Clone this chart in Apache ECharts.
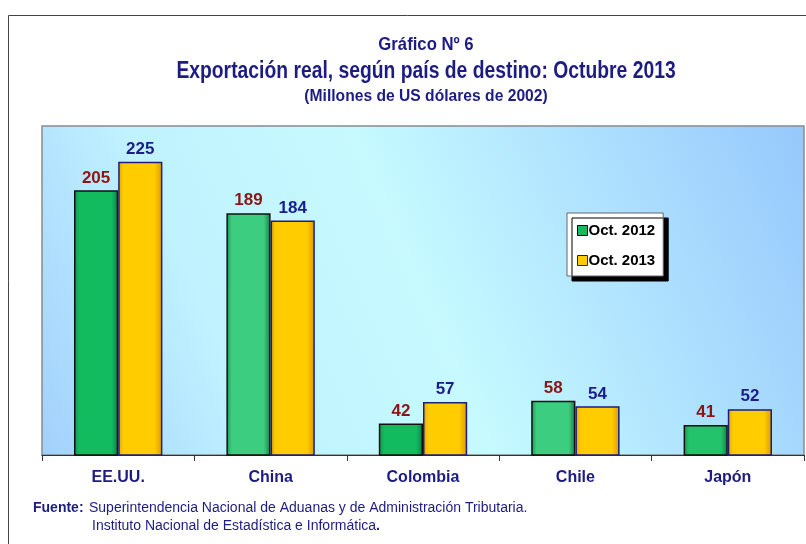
<!DOCTYPE html>
<html><head><meta charset="utf-8">
<script src="https://cdn.jsdelivr.net/npm/echarts@6/dist/echarts.min.js"></script>
<style>html,body{margin:0;padding:0;background:#fff}#c{width:806px;height:544px}</style>
</head><body><div id="c"></div>
<script>
const categories = ['EE.UU.', 'China', 'Colombia', 'Chile', 'Japón'];
const oct2012 = [205, 189, 42, 58, 41];
const oct2013 = [225, 184, 57, 54, 52];
const seriesNames = ['Oct. 2012', 'Oct. 2013'];
const titleLines = ['Gráfico Nº 6', 'Exportación real, según país de destino: Octubre 2013', '(Millones de US dólares de 2002)'];
const sourceLines = ['Fuente:', 'Superintendencia Nacional de Aduanas y de Administración Tributaria.', 'Instituto Nacional de Estadística e Informática'];

const FONT = "'Liberation Sans', Arial, sans-serif";
const NAVY = '#1c1c82';
const chart = echarts.init(document.getElementById('c'), null, {renderer: 'canvas'});

const greenShades = ['#12bb5e', '#3ccd80', '#12bb5e', '#3ccd80', '#22c36a'];
function greenGrad(c) {
  return new echarts.graphic.LinearGradient(0, 0, 1, 0, [
    {offset: 0, color: '#1e8f52'}, {offset: 0.12, color: c}, {offset: 0.85, color: c}, {offset: 1, color: '#167a45'}
  ]);
}
const yellowGrad = new echarts.graphic.LinearGradient(0, 0, 1, 0, [
  {offset: 0, color: '#e0a800'}, {offset: 0.12, color: '#ffcc00'}, {offset: 0.82, color: '#ffcc00'}, {offset: 1, color: '#d99a00'}
]);

function titleText(txt, y, size, sx) {
  return {type: 'group', x: 426, y: y, scaleX: sx, children: [
    {type: 'text', x: 0, y: 0, style: {text: txt, font: 'bold ' + size + 'px ' + FONT, fill: NAVY, textAlign: 'center', textVerticalAlign: 'middle'}}
  ]};
}

chart.setOption({
  backgroundColor: '#ffffff',
  animation: false,
  legend: {
    orient: 'vertical',
    left: 567, top: 213, width: 96,
    padding: [10, 8, 8, 10],
    itemGap: 15,
    itemWidth: 10, itemHeight: 10,
    backgroundColor: '#ffffff',
    borderColor: '#666', borderWidth: 1,
    shadowColor: '#000', shadowBlur: 0, shadowOffsetX: 5, shadowOffsetY: 5,
    textStyle: {fontFamily: FONT, fontSize: 15, fontWeight: 'bold', color: '#000', padding: [0, 0, 0, -4]},
    data: [
      {name: seriesNames[0], icon: 'rect', itemStyle: {color: '#12bb5e', borderColor: '#000', borderWidth: 1}},
      {name: seriesNames[1], icon: 'rect', itemStyle: {color: '#ffcc00', borderColor: '#1c1c82', borderWidth: 1}}
    ]
  },
  grid: {
    left: 42, right: 2, top: 126, bottom: 89,
    show: true,
    borderColor: '#8a8a8a', borderWidth: 1.5,
    backgroundColor: new echarts.graphic.LinearGradient(1, 0, 0, 1, [
      {offset: 0, color: '#96c8fc'}, {offset: 0.5, color: '#c6faff'}, {offset: 0.75, color: '#c0f2ff'}, {offset: 1, color: '#a2d0fc'}
    ])
  },
  xAxis: {
    type: 'category',
    data: categories,
    axisLine: {lineStyle: {color: '#333', width: 1.2}},
    axisTick: {show: true, length: 6, lineStyle: {color: '#333'}},
    axisLabel: {fontFamily: FONT, fontSize: 16, fontWeight: 'bold', color: NAVY, margin: 15}
  },
  yAxis: {
    type: 'value', min: 20, max: 250,
    show: false,
    splitLine: {show: false}
  },
  series: [
    {
      name: seriesNames[0], type: 'bar', barWidth: '29%', barGap: '0%',
      data: oct2012.map((v, i) => ({value: v, itemStyle: {color: greenGrad(greenShades[i])}})),
      itemStyle: {borderColor: '#111', borderWidth: 1.5, color: '#12bb5e'},
      label: {show: true, position: 'top', distance: 4, fontFamily: FONT, fontSize: 17, fontWeight: 'bold', color: '#8b1515'}
    },
    {
      name: seriesNames[1], type: 'bar', barWidth: '29%', barGap: '0%',
      data: oct2013,
      itemStyle: {color: yellowGrad, borderColor: '#1c1c82', borderWidth: 1.5},
      label: {show: true, position: 'top', distance: 4, fontFamily: FONT, fontSize: 17, fontWeight: 'bold', color: '#1c1c8c'}
    }
  ],
  graphic: [
    {type: 'rect', shape: {x: 8.5, y: 15.5, width: 900, height: 700}, style: {fill: 'none', stroke: '#444', lineWidth: 1}, z: 100},
    titleText(titleLines[0], 45, 19, 0.88),
    titleText(titleLines[1], 72, 23, 0.84),
    titleText(titleLines[2], 96, 17, 0.92),
    {type: 'text', left: 33, top: 501, style: {text: sourceLines[0], font: 'bold 14px ' + FONT, fill: NAVY}},
    {type: 'text', left: 89, top: 501, style: {text: sourceLines[1], font: '14px ' + FONT, fill: NAVY}},
    {type: 'text', left: 92, top: 519, style: {rich: {a: {font: '14px ' + FONT, fill: NAVY}, b: {font: 'bold 14px ' + FONT, fill: NAVY}}, text: '{a|' + sourceLines[2] + '}{b|.}'}}
  ]
});
</script>
</body></html>
